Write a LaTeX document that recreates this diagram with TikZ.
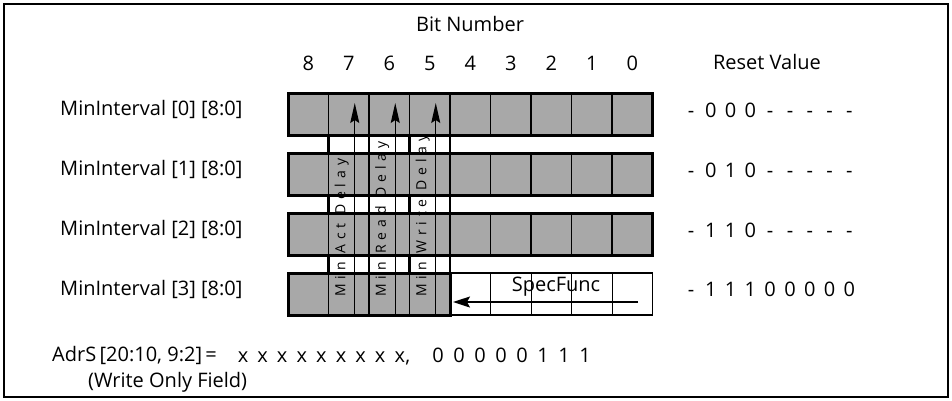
\documentclass[tikz,border=0pt]{standalone}
\usepackage{fontspec}
\setmainfont{Open Sans}
\usetikzlibrary{arrows.meta, positioning}
\definecolor{cellgray}{RGB}{168,168,168}

\begin{document}
\begin{tikzpicture}[x=1pt, y=-1pt,
  regcell/.style={draw=black, line width=1.6pt, fill=cellgray, minimum width=40.5pt, minimum height=42pt, inner sep=0pt, outer sep=0pt},
  speccell/.style={regcell, fill=white, line width=1pt},
  rowframe/.style={draw=black, line width=3pt},
  gapline/.style={draw=black, line width=2.4pt},
  txt/.style={font=\fontsize{20}{24}\selectfont, inner sep=0pt},
  chr/.style={txt, anchor=base},
  rowlabel/.style={txt, anchor=west},
  striptext/.style={rotate=90, anchor=west, inner sep=0pt, font=\fontsize{14}{16}\selectfont\addfontfeature{LetterSpace=35}},
  uparrow/.style={line width=1.2pt, -{Stealth[length=20pt, width=9pt, inset=3pt]}}
]
  \useasboundingbox (0,0) rectangle (952,400);
  \draw[line width=1.2pt] (4,4) rectangle (948,397);

  % header
  \node[txt] (bitnum) at (470, 24) {Bit Number};
  \node[txt] (rstval) at (767, 62) {Reset Value};

  % register rows 0..2
  \foreach \r in {0,1,2} {
    \foreach \b in {0,...,8}
      \node[regcell] (cell-\r-\b) at ({308.25+40.5*(8-\b)}, {114+60*\r}) {};
    \draw[rowframe] (cell-\r-8.north west) rectangle (cell-\r-0.south east);
  }
  % row 3
  \foreach \b in {5,...,8}
    \node[regcell] (cell-3-\b) at ({308.25+40.5*(8-\b)}, 294) {};
  \foreach \b in {0,...,4}
    \node[speccell] (cell-3-\b) at ({308.25+40.5*(8-\b)}, 294) {};
  \draw[rowframe] (cell-3-8.north west) rectangle (cell-3-5.south east);
  \draw[line width=1.4pt] (cell-3-4.north west) rectangle (cell-3-0.south east);

  % bit numbers
  \foreach \b in {0,...,8}
    \node[txt, above=22pt of cell-0-\b] (bit-\b) {\b};

  % row labels
  \node[rowlabel] (mi0) at (60, 109) {MinInterval [0] [8:0]};
  \node[rowlabel] (mi1) at (60, 169) {MinInterval [1] [8:0]};
  \node[rowlabel] (mi2) at (60, 229) {MinInterval [2] [8:0]};
  \node[rowlabel] (mi3) at (60, 289) {MinInterval [3] [8:0]};

  % column lines through the gaps
  \foreach \r/\n in {0/1, 1/2, 2/3} {
    \foreach \b in {7,6,5}
      \draw[gapline] (cell-\r-\b.south west) -- (cell-\n-\b.north west);
    \draw[gapline] (cell-\r-5.south east) -- (cell-\n-5.north east);
  }

  % delay fields
  \foreach \b/\dly in {7/Min Act Delay, 6/Min Read Delay, 5/Min Write Delay} {
    \node[striptext] (dly-\b) at ([xshift=-7pt, yshift=18pt]cell-3-\b.south) {\dly};
    \draw[uparrow] ([xshift=6pt]cell-3-\b.south) -- ([xshift=6pt, yshift=-10pt]cell-0-\b.north);
  }

  % special function field
  \node[txt] (spec) at (556, 287) {SpecFunc};
  \coordinate (sfstart) at (638, 302);
  \coordinate (sfend) at (cell-3-4.west |- sfstart);
  \draw[line width=1.5pt, -{Stealth[length=17pt, width=11pt, inset=3pt]}] (sfstart) -- ([xshift=3pt]sfend);

  % reset values
  \foreach \ch [count=\i from 0] in {-,0,0,0,-,-,-,-,-}
    \node[chr] (rst0-\i) at (691+19.8*\i, 117) {\ch};
  \foreach \ch [count=\i from 0] in {-,0,1,0,-,-,-,-,-}
    \node[chr] (rst1-\i) at (691+19.8*\i, 177) {\ch};
  \foreach \ch [count=\i from 0] in {-,1,1,0,-,-,-,-,-}
    \node[chr] (rst2-\i) at (691+19.8*\i, 237) {\ch};
  \foreach \ch [count=\i from 0] in {-,1,1,1,0,0,0,0,0}
    \node[chr] (rst3-\i) at (691+19.8*\i, 296) {\ch};

  % address line
  \node[rowlabel] (adrs) at (52, 355) {AdrS\,[20:10, 9:2]\,=};
  \foreach \i in {0,...,8}
    \node[chr] (adrx-\i) at (243+19.6*\i, 362) {x};
  \node[chr, anchor=base west] (adrcomma) at (adrx-8.base east) {,};
  \foreach \ch [count=\i from 0] in {0,0,0,0,0,1,1,1}
    \node[chr] (adrb-\i) at (438+21*\i, 362) {\ch};
  \node[rowlabel] (wonly) at (88, 382) {(Write Only Field)};
\end{tikzpicture}
\end{document}
